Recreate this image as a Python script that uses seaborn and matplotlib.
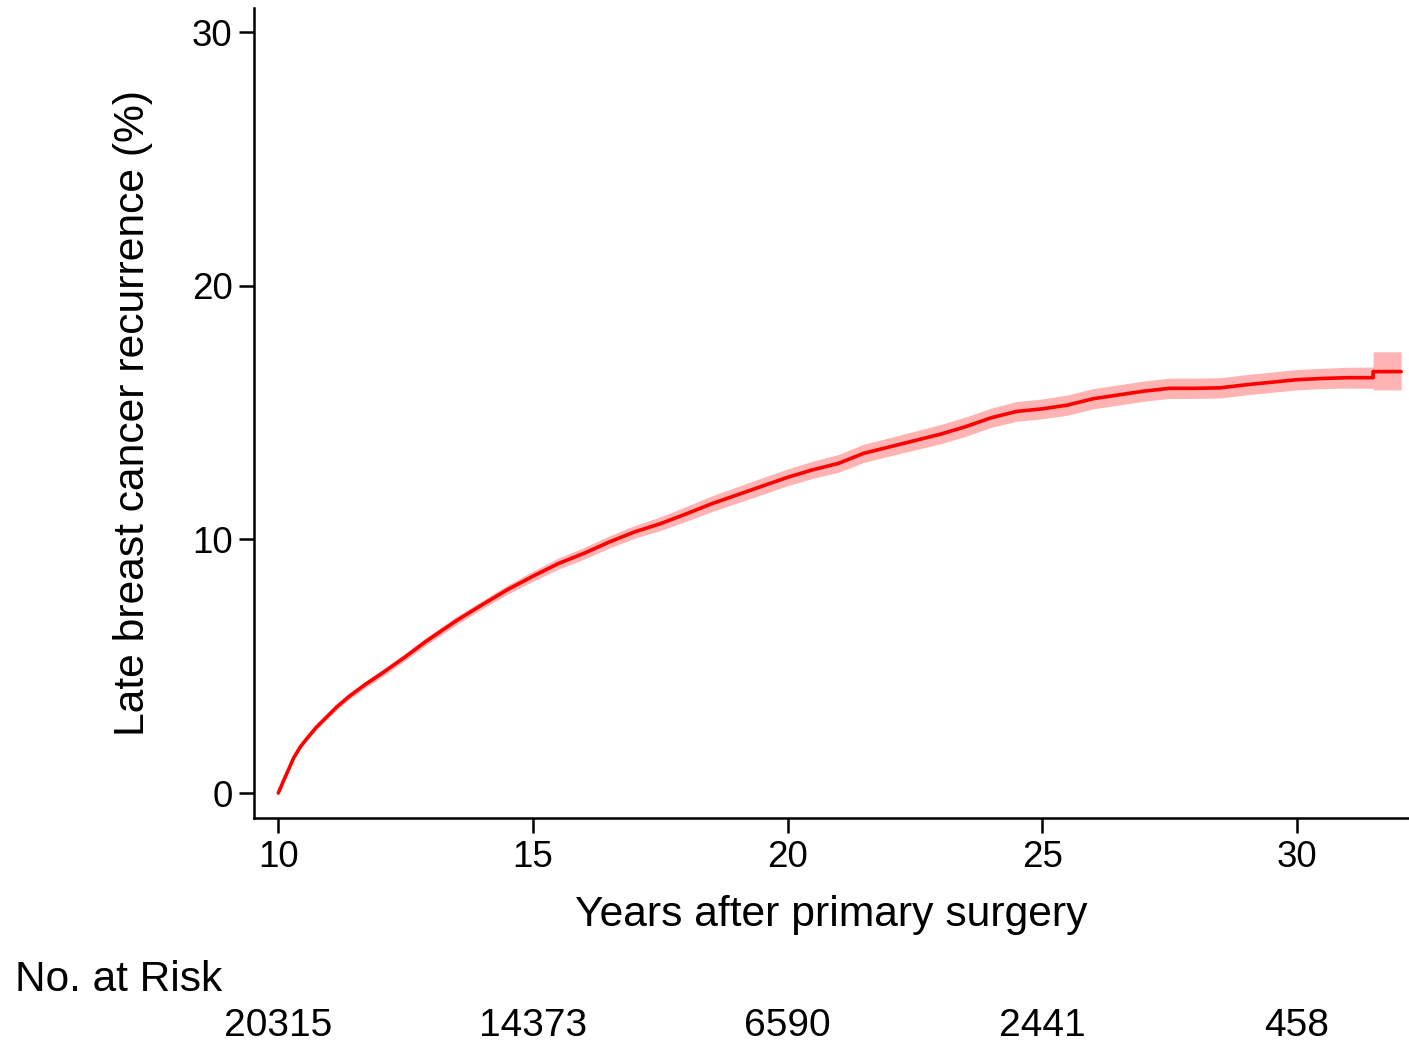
import numpy as np
import pandas as pd
import matplotlib
matplotlib.use("Agg")
import matplotlib.pyplot as plt
import matplotlib.transforms as mtransforms
import seaborn as sns

# ---- data ----
years = [10.0, 10.1, 10.2, 10.3, 10.44, 10.57, 10.75, 10.93, 11.15, 11.39, 11.7, 12.05,
         12.5, 12.9, 13.5, 14.0,
         14.5, 15.0, 15.5, 16.0, 16.5, 17.0, 17.5, 18.0, 18.5, 19.0, 19.5, 20.0,
         20.5, 21.0, 21.5, 22.0, 22.5, 23.0, 23.5, 24.0, 24.5, 25.0, 25.5, 26.0,
         26.5, 27.0, 27.5, 28.0, 28.5, 29.0, 29.5, 30.0, 30.5, 31.0, 31.5, 31.5, 32.05]
cuminc = [0.0, 0.47, 0.92, 1.38, 1.84, 2.17, 2.6, 2.96, 3.4, 3.81, 4.27, 4.74,
          5.38, 5.98, 6.8, 7.42,
          8.02, 8.55, 9.05, 9.45, 9.9, 10.3, 10.62, 11.0, 11.4, 11.75, 12.1, 12.45,
          12.75, 13.0, 13.4, 13.65, 13.9, 14.15, 14.45, 14.8, 15.05, 15.15, 15.3, 15.55,
          15.7, 15.85, 15.96, 15.96, 15.98, 16.1, 16.2, 16.3, 16.35, 16.38, 16.38, 16.62, 16.62]
ci_lower = [0.0, 0.44, 0.88, 1.32, 1.77, 2.09, 2.51, 2.86, 3.29, 3.69, 4.14, 4.6,
            5.24, 5.83, 6.64, 7.26,
            7.84, 8.35, 8.83, 9.22, 9.66, 10.05, 10.35, 10.71, 11.09, 11.43, 11.77, 12.12,
            12.41, 12.65, 13.04, 13.29, 13.53, 13.77, 14.07, 14.42, 14.66, 14.76, 14.9, 15.15,
            15.3, 15.45, 15.56, 15.56, 15.58, 15.7, 15.8, 15.9, 15.95, 15.97, 15.96, 15.9, 15.9]
ci_upper = [0.0, 0.5, 0.96, 1.44, 1.91, 2.25, 2.69, 3.06, 3.51, 3.93, 4.4, 4.88,
            5.52, 6.13, 6.96, 7.58,
            8.2, 8.75, 9.27, 9.68, 10.14, 10.55, 10.89, 11.29, 11.71, 12.07, 12.43, 12.78,
            13.09, 13.35, 13.76, 14.01, 14.27, 14.53, 14.83, 15.18, 15.44, 15.54, 15.7, 15.95,
            16.1, 16.25, 16.36, 16.36, 16.38, 16.5, 16.6, 16.7, 16.75, 16.79, 16.8, 17.4, 17.4]

x_ticks = [10, 15, 20, 25, 30]
y_ticks = [0, 10, 20, 30]
at_risk = ["20315", "14373", "6590", "2441", "458"]

x_label = "Years after primary surgery"
y_label = "Late breast cancer recurrence (%)"
risk_title = "No. at Risk"

# ---- styling ----
sns.set_style("ticks")
plt.rcParams["font.family"] = ["Liberation Sans", "DejaVu Sans"]
plt.rcParams["text.color"] = "black"
plt.rcParams["axes.labelcolor"] = "black"

fig = plt.figure(figsize=(14.09, 10.45), dpi=100)
ax = fig.add_axes([254 / 1409, 1 - 818 / 1045, (1409 - 254) / 1409, (818 - 8) / 1045])

df = pd.DataFrame({"years": years, "cuminc": cuminc})
ax.fill_between(years, ci_lower, ci_upper, color="#FFB3B3", lw=0, zorder=1)
sns.lineplot(data=df, x="years", y="cuminc", estimator=None, sort=False,
             color="#FF0000", lw=2.6, ax=ax, zorder=2)

ax.set_xlim(9.523, 32.205)
ax.set_ylim(-0.985, 30.96)
ax.set_xticks(x_ticks)
ax.set_yticks(y_ticks)
ax.set_xticklabels([str(t) for t in x_ticks])
ax.set_yticklabels([str(t) for t in y_ticks])

for s in ["top", "right"]:
    ax.spines[s].set_visible(False)
for s in ["left", "bottom"]:
    ax.spines[s].set_linewidth(1.8)
    ax.spines[s].set_color("black")
ax.tick_params(axis="both", direction="out", length=10.5, width=1.8, colors="black",
               labelcolor="black", labelsize=26.5, pad=5)

ax.set_xlabel(x_label, fontsize=30.7, labelpad=15, color="black")
ax.set_ylabel(y_label, fontsize=30.7, labelpad=28, color="black")

# number at risk table
fig.text(15 / 1409, 1 - 980 / 1045, risk_title, fontsize=30.5, ha="left", va="center",
         color="black")
trans = mtransforms.blended_transform_factory(ax.transData, fig.transFigure)
for t, n in zip(x_ticks, at_risk):
    ax.text(t, 1 - 1026 / 1045, n, transform=trans, fontsize=28, ha="center",
            va="center", clip_on=False, color="black")

fig.savefig("out.png", dpi=100)
